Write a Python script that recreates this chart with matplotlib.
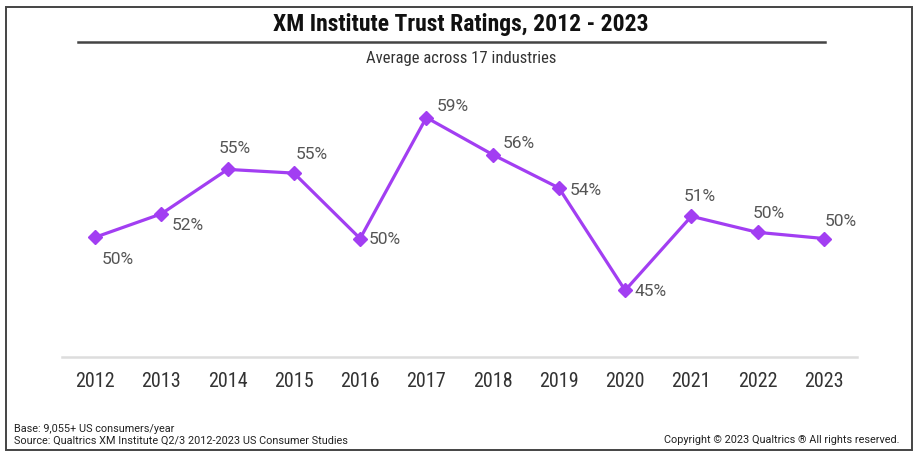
import matplotlib
matplotlib.use("Agg")
import matplotlib.pyplot as plt
from matplotlib import font_manager
from matplotlib.patches import Rectangle
from matplotlib.lines import Line2D

# pick a narrow face if one is around, otherwise Roboto
names = {f.name for f in font_manager.fontManager.ttflist}
narrow = next((n for n in ["Roboto Condensed", "Liberation Sans Narrow", "Roboto"] if n in names), "DejaVu Sans")
regular = "Roboto" if "Roboto" in names else "DejaVu Sans"
plt.rcParams['font.family'] = [narrow, 'DejaVu Sans']

years = ["2012", "2013", "2014", "2015", "2016", "2017",
         "2018", "2019", "2020", "2021", "2022", "2023"]
trust = [49.7, 51.6, 55.2, 54.9, 49.6, 59.4, 56.4, 53.7, 45.4, 51.4, 50.1, 49.6]
labels = ["50%", "52%", "55%", "55%", "50%", "59%",
          "56%", "54%", "45%", "51%", "50%", "50%"]

# label offsets in points (dx, dy) relative to each marker
offsets = [(16, -15), (19, -8), (5, 16), (13, 14), (18, 0), (19, 9),
           (19, 9), (19, -1), (18, 0), (6, 15), (8, 14), (12, 13)]

purple = "#A23EF2"

fig = plt.figure(figsize=(9.22, 4.6), dpi=100)
W, H = 922, 460

ax = fig.add_axes([62 / W, (H - 358) / H, 795 / W, (358 - 84) / H])
x = list(range(len(years)))
ax.plot(x, trust, color=purple, lw=2.3, marker="D", markersize=7, zorder=3)

for xi, v, lab, (dx, dy) in zip(x, trust, labels, offsets):
    ax.annotate(lab, (xi, v), xytext=(dx, dy), textcoords="offset points",
                ha="center", va="center", fontsize=12.5, color="#555555",
                family=[regular, 'DejaVu Sans'])

ax.set_xlim(-0.5, len(years) - 0.5)
ax.set_ylim(40, 62.2)
ax.set_xticks(x)
ax.set_xticklabels(years, fontsize=14.5, color="#333333")
ax.set_yticks([])
ax.tick_params(axis="x", length=0, pad=10)
for s in ["top", "left", "right"]:
    ax.spines[s].set_visible(False)
ax.spines["bottom"].set_color("#dddddd")
ax.spines["bottom"].set_linewidth(1.8)

# outer frame, title and its rule
fig.patches.append(Rectangle((6 / W, (H - 451) / H), 906 / W, 443 / H,
                             transform=fig.transFigure, fill=False,
                             edgecolor="#444444", lw=1.4))
fig.text(0.5, (H - 25) / H, "XM Institute Trust Ratings, 2012 - 2023",
         ha="center", va="center", fontsize=17, fontweight="bold", color="#111111")
fig.lines.append(Line2D([78 / W, 825 / W], [(H - 43) / H] * 2,
                        transform=fig.transFigure, color="#444444", lw=1.8))
fig.text(0.5, (H - 59) / H, "Average across 17 industries",
         ha="center", va="center", fontsize=12, color="#333333")

foot = dict(fontsize=7.8, color="#222222", va="center", family=[regular, 'DejaVu Sans'])
fig.text(14 / W, (H - 429) / H, "Base: 9,055+ US consumers/year", ha="left", **foot)
fig.text(14 / W, (H - 441) / H, "Source: Qualtrics XM Institute Q2/3 2012-2023 US Consumer Studies",
         ha="left", **foot)
fig.text(899 / W, (H - 440) / H, "Copyright \u00a9 2023 Qualtrics \u00ae All rights reserved.",
         ha="right", **foot)

fig.savefig("out.png", dpi=100)
